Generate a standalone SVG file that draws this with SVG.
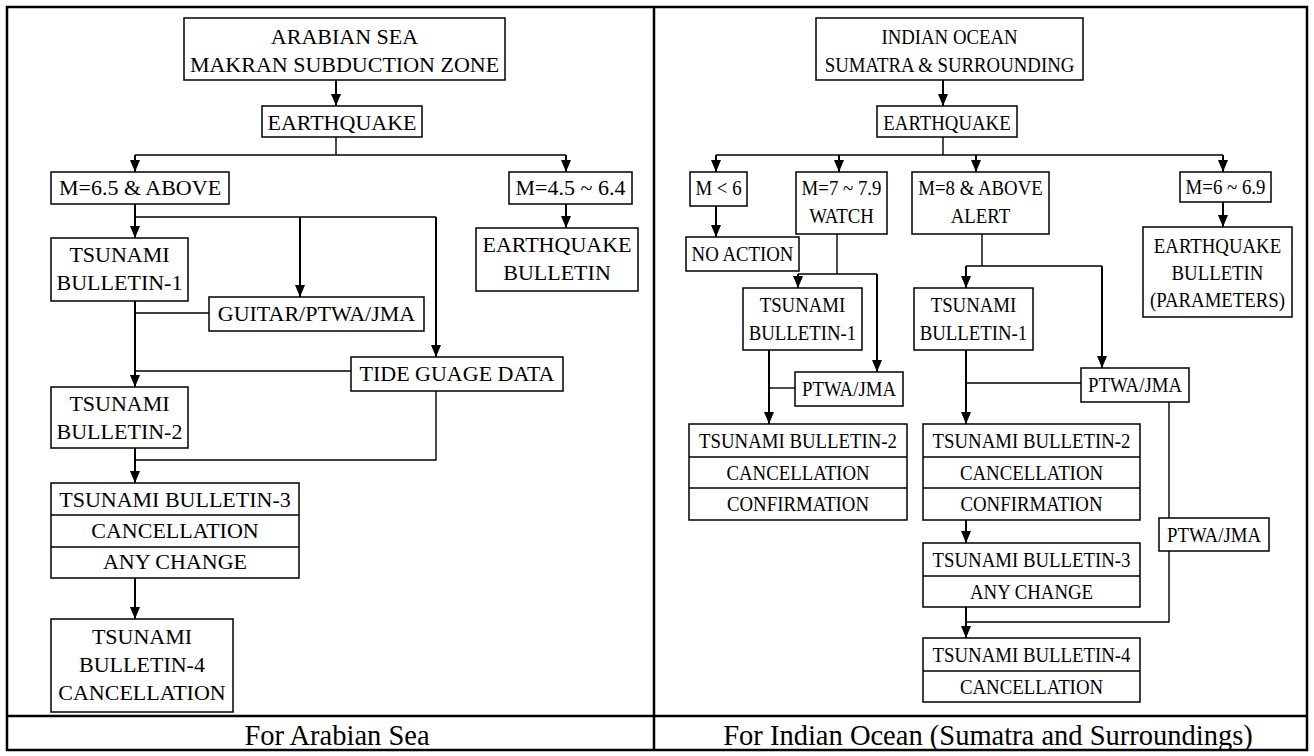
<svg xmlns="http://www.w3.org/2000/svg" width="1314" height="756" viewBox="0 0 1314 756">
  <style>
    .box { fill: #fff; stroke: #000; stroke-width: 1.5; }
    .sep { stroke: #000; stroke-width: 1.5; }
    .frame { fill: none; stroke: #000; stroke-width: 2.5; }
    .ln { fill: none; stroke: #000; stroke-width: 1.4; }
    .ar { fill: none; stroke: #000; stroke-width: 2; marker-end: url(#ah); }
    text { font-family: "Liberation Serif", "Times New Roman", serif; font-size: 22px; fill: #000; text-anchor: middle; }
    .cap { font-size: 28.5px; }
  </style>
  <defs>
    <marker id="ah" viewBox="0 0 12 10" refX="12" refY="5" markerWidth="12" markerHeight="10" markerUnits="userSpaceOnUse" orient="auto">
      <path d="M0,0 L12,5 L0,10 z" fill="#000"/>
    </marker>
  </defs>

  <rect width="1314" height="756" fill="#fff"/>

  <!-- outer table frame -->
  <g id="frame">
    <rect class="frame" x="7" y="7" width="1300" height="743"/>
    <line class="frame" x1="654" y1="7" x2="654" y2="750"/>
    <line class="frame" x1="7" y1="716" x2="1307" y2="716"/>
  </g>

  <!-- connectors -->
  <g id="connectors">
    <!-- Arabian Sea -->
    <line class="ar" x1="336" y1="80" x2="336" y2="106"/>
    <polyline class="ln" points="336,137 336,155"/>
    <line class="ln" x1="135" y1="155" x2="566" y2="155"/>
    <line class="ar" x1="135" y1="155" x2="135" y2="172"/>
    <line class="ar" x1="566" y1="155" x2="566" y2="172"/>
    <line class="ar" x1="566" y1="204" x2="566" y2="228"/>
    <line class="ar" x1="135" y1="204" x2="135" y2="238"/>
    <polyline class="ln" points="135,217 436,217"/>
    <line class="ar" x1="300" y1="217" x2="300" y2="297"/>
    <line class="ar" x1="436" y1="217" x2="436" y2="357"/>
    <line class="ln" x1="209" y1="313" x2="135" y2="313"/>
    <line class="ar" x1="135" y1="301" x2="135" y2="387"/>
    <line class="ln" x1="351" y1="371" x2="135" y2="371"/>
    <polyline class="ln" points="436,391 436,460 135,460"/>
    <line class="ar" x1="135" y1="448" x2="135" y2="483"/>
    <line class="ar" x1="135" y1="578" x2="135" y2="619"/>

    <!-- Indian Ocean -->
    <line class="ar" x1="943" y1="80" x2="943" y2="106"/>
    <polyline class="ln" points="943,137 943,155"/>
    <line class="ln" x1="716" y1="155" x2="1223" y2="155"/>
    <line class="ar" x1="716" y1="155" x2="716" y2="172"/>
    <line class="ar" x1="839" y1="155" x2="839" y2="172"/>
    <line class="ar" x1="976" y1="155" x2="976" y2="172"/>
    <line class="ar" x1="1223" y1="155" x2="1223" y2="172"/>
    <line class="ar" x1="716" y1="206" x2="716" y2="237"/>
    <line class="ar" x1="1223" y1="202" x2="1223" y2="227"/>

    <!-- watch branch -->
    <polyline class="ln" points="837,234 837,274"/>
    <line class="ln" x1="798" y1="274" x2="877" y2="274"/>
    <line class="ar" x1="798" y1="274" x2="798" y2="288"/>
    <line class="ar" x1="877" y1="274" x2="877" y2="372"/>
    <line class="ln" x1="795" y1="388" x2="769" y2="388"/>
    <line class="ar" x1="769" y1="350" x2="769" y2="424"/>

    <!-- alert branch -->
    <polyline class="ln" points="982,234 982,266"/>
    <line class="ln" x1="966" y1="266" x2="1102" y2="266"/>
    <line class="ar" x1="966" y1="266" x2="966" y2="288"/>
    <line class="ar" x1="1102" y1="266" x2="1102" y2="368"/>
    <line class="ln" x1="1081" y1="383" x2="966" y2="383"/>
    <line class="ar" x1="966" y1="350" x2="966" y2="424"/>
    <line class="ln" x1="1169" y1="402" x2="1169" y2="518"/>
    <polyline class="ln" points="1169,551 1169,622 966,622"/>
    <line class="ar" x1="966" y1="520" x2="966" y2="543"/>
    <line class="ar" x1="966" y1="607" x2="966" y2="638"/>
  </g>

  <!-- ===== Arabian Sea ===== -->
  <g id="as-source">
    <rect class="box" x="184" y="18" width="321" height="62"/>
    <text x="344.5" y="44">ARABIAN SEA</text>
    <text x="344.5" y="72">MAKRAN SUBDUCTION ZONE</text>
  </g>
  <g id="as-earthquake">
    <rect class="box" x="262" y="106" width="160" height="31"/>
    <text x="342" y="130">EARTHQUAKE</text>
  </g>
  <g id="as-m65">
    <rect class="box" x="51" y="172" width="178" height="32"/>
    <text x="140" y="195">M=6.5 &amp; ABOVE</text>
  </g>
  <g id="as-m45">
    <rect class="box" x="509" y="172" width="123" height="32"/>
    <text x="570.5" y="195">M=4.5 ~ 6.4</text>
  </g>
  <g id="as-eq-bulletin">
    <rect class="box" x="476" y="228" width="162" height="63"/>
    <text x="557" y="252">EARTHQUAKE</text>
    <text x="557" y="280">BULLETIN</text>
  </g>
  <g id="as-tb1">
    <rect class="box" x="51" y="238" width="137" height="63"/>
    <text x="119.5" y="262">TSUNAMI</text>
    <text x="119.5" y="290">BULLETIN-1</text>
  </g>
  <g id="as-guitar">
    <rect class="box" x="209" y="297" width="215" height="34"/>
    <text x="316.5" y="321">GUITAR/PTWA/JMA</text>
  </g>
  <g id="as-tide">
    <rect class="box" x="351" y="357" width="212" height="34"/>
    <text x="457" y="381">TIDE GUAGE DATA</text>
  </g>
  <g id="as-tb2">
    <rect class="box" x="51" y="387" width="137" height="61"/>
    <text x="119.5" y="411">TSUNAMI</text>
    <text x="119.5" y="439">BULLETIN-2</text>
  </g>
  <g id="as-tb3">
    <rect class="box" x="51" y="483" width="248" height="95"/>
    <line class="sep" x1="51" y1="515" x2="299" y2="515"/>
    <line class="sep" x1="51" y1="547" x2="299" y2="547"/>
    <text x="175" y="507">TSUNAMI BULLETIN-3</text>
    <text x="175" y="538">CANCELLATION</text>
    <text x="175" y="569">ANY CHANGE</text>
  </g>
  <g id="as-tb4">
    <rect class="box" x="51" y="619" width="182" height="93"/>
    <text x="142" y="644">TSUNAMI</text>
    <text x="142" y="672">BULLETIN-4</text>
    <text x="142" y="700">CANCELLATION</text>
  </g>

  <!-- ===== Indian Ocean (narrower lettering) ===== -->
  <g id="io-source">
    <rect class="box" x="816" y="18" width="267" height="62"/>
    <text transform="translate(949.5 44) scale(.855 1)">INDIAN OCEAN</text>
    <text transform="translate(949.5 72) scale(.855 1)">SUMATRA &amp; SURROUNDING</text>
  </g>
  <g id="io-earthquake">
    <rect class="box" x="877" y="106" width="140" height="31"/>
    <text transform="translate(947 130) scale(.855 1)">EARTHQUAKE</text>
  </g>
  <g id="io-mlt6">
    <rect class="box" x="690" y="172" width="57" height="34"/>
    <text transform="translate(718.5 195) scale(.855 1)">M &lt; 6</text>
  </g>
  <g id="io-watch">
    <rect class="box" x="796" y="172" width="91" height="62"/>
    <text transform="translate(841.5 195) scale(.855 1)">M=7 ~ 7.9</text>
    <text transform="translate(841.5 223) scale(.855 1)">WATCH</text>
  </g>
  <g id="io-alert">
    <rect class="box" x="912" y="172" width="137" height="62"/>
    <text transform="translate(980.5 195) scale(.855 1)">M=8 &amp; ABOVE</text>
    <text transform="translate(980.5 223) scale(.855 1)">ALERT</text>
  </g>
  <g id="io-m6">
    <rect class="box" x="1180" y="172" width="91" height="30"/>
    <text transform="translate(1225.5 194) scale(.855 1)">M=6 ~ 6.9</text>
  </g>
  <g id="io-no-action">
    <rect class="box" x="686" y="237" width="113" height="34"/>
    <text transform="translate(742.5 261) scale(.855 1)">NO ACTION</text>
  </g>
  <g id="io-eq-bulletin">
    <rect class="box" x="1143" y="227" width="149" height="90"/>
    <text transform="translate(1217.5 253) scale(.855 1)">EARTHQUAKE</text>
    <text transform="translate(1217.5 280) scale(.855 1)">BULLETIN</text>
    <text transform="translate(1217.5 307) scale(.855 1)">(PARAMETERS)</text>
  </g>
  <g id="io-watch-tb1">
    <rect class="box" x="743" y="288" width="119" height="62"/>
    <text transform="translate(802.5 312) scale(.855 1)">TSUNAMI</text>
    <text transform="translate(802.5 340) scale(.855 1)">BULLETIN-1</text>
  </g>
  <g id="io-watch-ptwa">
    <rect class="box" x="795" y="372" width="108" height="34"/>
    <text transform="translate(849 396) scale(.855 1)">PTWA/JMA</text>
  </g>
  <g id="io-watch-tb2">
    <rect class="box" x="689" y="424" width="218" height="96"/>
    <line class="sep" x1="689" y1="457" x2="907" y2="457"/>
    <line class="sep" x1="689" y1="488" x2="907" y2="488"/>
    <text transform="translate(798 448) scale(.855 1)">TSUNAMI BULLETIN-2</text>
    <text transform="translate(798 480) scale(.855 1)">CANCELLATION</text>
    <text transform="translate(798 511) scale(.855 1)">CONFIRMATION</text>
  </g>
  <g id="io-alert-tb1">
    <rect class="box" x="914" y="288" width="119" height="62"/>
    <text transform="translate(973.5 312) scale(.855 1)">TSUNAMI</text>
    <text transform="translate(973.5 340) scale(.855 1)">BULLETIN-1</text>
  </g>
  <g id="io-alert-ptwa">
    <rect class="box" x="1081" y="368" width="108" height="34"/>
    <text transform="translate(1135 392) scale(.855 1)">PTWA/JMA</text>
  </g>
  <g id="io-alert-tb2">
    <rect class="box" x="923" y="424" width="217" height="96"/>
    <line class="sep" x1="923" y1="457" x2="1140" y2="457"/>
    <line class="sep" x1="923" y1="488" x2="1140" y2="488"/>
    <text transform="translate(1031.5 448) scale(.855 1)">TSUNAMI BULLETIN-2</text>
    <text transform="translate(1031.5 480) scale(.855 1)">CANCELLATION</text>
    <text transform="translate(1031.5 511) scale(.855 1)">CONFIRMATION</text>
  </g>
  <g id="io-alert-ptwa-2">
    <rect class="box" x="1159" y="518" width="110" height="33"/>
    <text transform="translate(1214 542) scale(.855 1)">PTWA/JMA</text>
  </g>
  <g id="io-alert-tb3">
    <rect class="box" x="923" y="543" width="217" height="64"/>
    <line class="sep" x1="923" y1="576" x2="1140" y2="576"/>
    <text transform="translate(1031.5 567) scale(.855 1)">TSUNAMI BULLETIN-3</text>
    <text transform="translate(1031.5 599) scale(.855 1)">ANY CHANGE</text>
  </g>
  <g id="io-alert-tb4">
    <rect class="box" x="923" y="638" width="217" height="64"/>
    <line class="sep" x1="923" y1="671" x2="1140" y2="671"/>
    <text transform="translate(1031.5 662) scale(.855 1)">TSUNAMI BULLETIN-4</text>
    <text transform="translate(1031.5 694) scale(.855 1)">CANCELLATION</text>
  </g>

  <!-- captions -->
  <g id="captions">
    <text class="cap" x="337" y="745">For Arabian Sea</text>
    <text class="cap" x="988" y="745">For Indian Ocean (Sumatra and Surroundings)</text>
  </g>
</svg>
